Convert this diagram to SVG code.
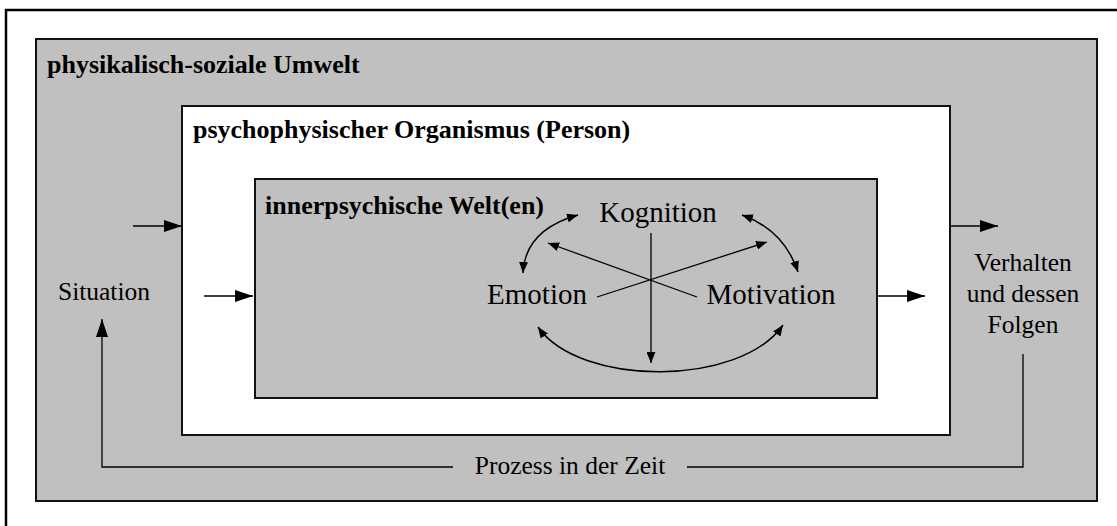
<svg xmlns="http://www.w3.org/2000/svg" width="1117" height="526" viewBox="0 0 1117 526">
<defs>
<style>
.frame{fill:#ffffff;stroke:#000;stroke-width:2.5}
.gray{fill:#c0c0c0;stroke:#111;stroke-width:2}
.white{fill:#ffffff;stroke:#111;stroke-width:2}
text{font-family:"Liberation Serif",Tinos,"Times New Roman",Times,"Noto Serif","DejaVu Serif",serif;fill:#000}
.title{font-size:26px;font-weight:bold}
.lab{font-size:25.5px}
.big{font-size:29px}
.ln{fill:none;stroke:#000;stroke-width:1.5}
.thin{fill:none;stroke:#000;stroke-width:1.3}
</style>
<marker id="ah" viewBox="0 0 18 12" refX="18" refY="6" markerWidth="18" markerHeight="12" markerUnits="userSpaceOnUse" orient="auto">
<path d="M0,0 L18,6 L0,12 Z" fill="#000"/>
</marker>
<marker id="as" viewBox="0 0 11 9" refX="11" refY="4.5" markerWidth="11" markerHeight="9" markerUnits="userSpaceOnUse" orient="auto-start-reverse">
<path d="M0,0 L11,4.5 L0,9 Z" fill="#000"/>
</marker>
</defs>
<rect x="0" y="0" width="1117" height="526" fill="#fff"/>
<rect class="frame" x="6" y="10" width="1130" height="530"/>
<g id="umwelt">
<rect class="gray" x="36" y="39" width="1061" height="462"/>
<text class="title" x="47" y="73" font-family="Liberation Serif, serif">physikalisch-soziale Umwelt</text>
</g>
<g id="organismus">
<rect class="white" x="182" y="106" width="768" height="329"/>
<text class="title" x="193" y="138" font-family="Liberation Serif, serif">psychophysischer Organismus (Person)</text>
</g>
<g id="innerpsychisch">
<rect class="gray" x="255" y="179" width="622" height="219"/>
<text class="title" x="265" y="214" font-family="Liberation Serif, serif">innerpsychische Welt(en)</text>
</g>
<g id="kognition"><text class="big" x="658" y="222" text-anchor="middle" font-family="Liberation Serif, serif">Kognition</text></g>
<g id="emotion"><text class="big" x="537" y="304" text-anchor="middle" font-family="Liberation Serif, serif">Emotion</text></g>
<g id="motivation"><text class="big" x="771" y="304" text-anchor="middle" font-family="Liberation Serif, serif">Motivation</text></g>
<g id="situation"><text class="lab" x="104" y="300" text-anchor="middle" font-family="Liberation Serif, serif">Situation</text></g>
<g id="verhalten">
<text class="lab" x="1023" y="271" text-anchor="middle" font-family="Liberation Serif, serif">Verhalten</text>
<text class="lab" x="1023" y="302" text-anchor="middle" font-family="Liberation Serif, serif">und dessen</text>
<text class="lab" x="1023" y="333" text-anchor="middle" font-family="Liberation Serif, serif">Folgen</text>
</g>
<g id="prozess"><text class="lab" x="570" y="474" text-anchor="middle" font-family="Liberation Serif, serif">Prozess in der Zeit</text></g>
<g id="connectors">
<line class="ln" x1="133" y1="226" x2="182" y2="226" marker-end="url(#ah)"/>
<line class="ln" x1="204" y1="296" x2="253" y2="296" marker-end="url(#ah)"/>
<line class="ln" x1="877" y1="296" x2="925" y2="296" marker-end="url(#ah)"/>
<line class="ln" x1="950" y1="226" x2="998" y2="226" marker-end="url(#ah)"/>
<polyline class="thin" points="1023,354 1023,467 687,467"/>
<polyline class="thin" points="453,467 102,467 102,319" marker-end="url(#ah)"/>
<line class="thin" x1="651" y1="233" x2="651" y2="363" marker-end="url(#as)"/>
<line class="thin" x1="597" y1="297" x2="767" y2="242" marker-end="url(#as)"/>
<line class="thin" x1="697" y1="297" x2="548" y2="243" marker-end="url(#as)"/>
<path class="ln" d="M523,273 Q525,230 578,215" marker-start="url(#as)" marker-end="url(#as)"/>
<path class="ln" d="M742,215 Q784,230 798,272" marker-start="url(#as)" marker-end="url(#as)"/>
<path class="ln" d="M538,327 C580,387 740,387 783,325" marker-start="url(#as)" marker-end="url(#as)"/>
</g>
</svg>
